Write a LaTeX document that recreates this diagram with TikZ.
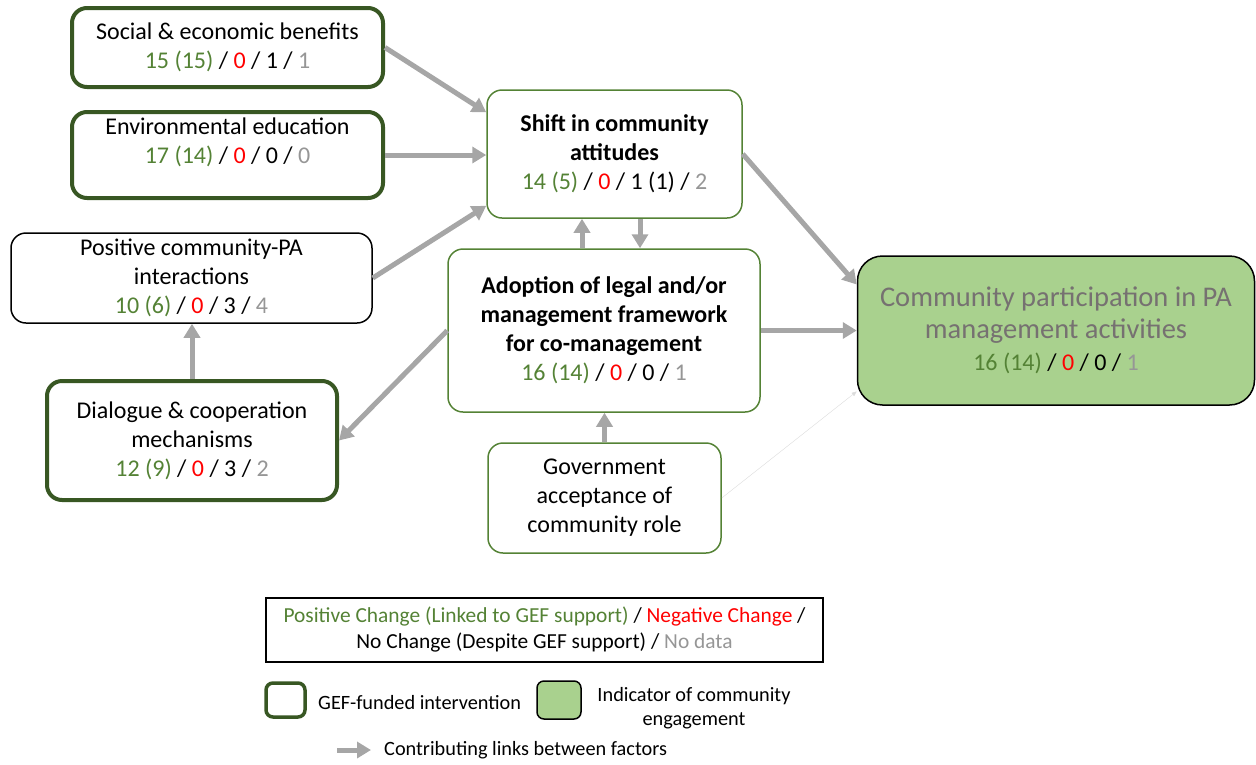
\documentclass[tikz,border=0pt]{standalone}
\usepackage{fontspec}
\setmainfont{Carlito}
\usetikzlibrary{arrows.meta,calc}
\definecolor{gefgreen}{RGB}{56,87,35}
\definecolor{boxgreen}{RGB}{84,130,53}
\definecolor{txtgreen}{RGB}{84,130,53}
\definecolor{nodata}{RGB}{150,150,150}
\definecolor{linkgray}{RGB}{166,166,166}
\definecolor{engfill}{RGB}{169,209,142}
\definecolor{engtext}{RGB}{118,113,113}
\newcommand{\counts}[4]{\textcolor{txtgreen}{#1} / \textcolor{red}{#2} / #3 / \textcolor{nodata}{#4}}
\tikzset{
  factor/.style={draw=boxgreen, line width=1.5pt, rounded corners=15pt, align=center, inner sep=0pt, font=\fontsize{24}{29}\selectfont},
  gef/.style={factor, draw=gefgreen, line width=4pt},
  link/.style={draw=linkgray, line width=5pt, -{Triangle[length=14pt,width=16pt]}},
}
\begin{document}
\begin{tikzpicture}[x=1pt,y=-1pt]
\useasboundingbox (0,0) rectangle (1256,764);
\node[gef, minimum width=311pt, minimum height=79pt] (1) at (227.5,47.5) {Social \& economic benefits\\\counts{15 (15)}{0}{1}{1}};
\node[gef, minimum width=311pt, minimum height=86pt] (2) at (227.5,155) {Environmental education\\\counts{17 (14)}{0}{0}{0}\\\mbox{}};
\node[factor, draw=black, minimum width=361pt, minimum height=90pt] (3) at (191.5,278) {Positive community-PA\\interactions\\\counts{10 (6)}{0}{3}{4}};
\node[gef, minimum width=290pt, minimum height=119pt] (4) at (192,440.5) {Dialogue \& cooperation\\mechanisms\\\counts{12 (9)}{0}{3}{2}};
\node[factor, minimum width=255pt, minimum height=128pt] (5) at (614.5,154) {\textbf{Shift in community}\\\textbf{attitudes}\\\counts{14 (5)}{0}{1 (1)}{2}};
\node[factor, minimum width=312pt, minimum height=163pt] (6) at (604,330.5) {\textbf{Adoption of legal and/or}\\\textbf{management framework}\\\textbf{for co-management}\\\counts{16 (14)}{0}{0}{1}};
\node[factor, minimum width=233pt, minimum height=110pt] (7) at (604.5,498) {Government\\acceptance of\\community role};
\node[factor, draw=black, fill=engfill, rounded corners=25pt, minimum width=397pt, minimum height=149pt, text=engtext, font=\fontsize{28.5}{32}\selectfont] (8) at (1056,330.5) {Community participation in PA\\management activities\\{\fontsize{24}{32}\selectfont\color{black}\counts{16 (14)}{0}{0}{1}}};
% links
\path[draw,link] (1.east) -- (5.162);
\path[draw,link] (2.east) -- (5.west |- 2.east);
\path[draw,link] (3.east) -- (5.202);
\path[draw,link] (4.north) -- (4.north |- 3.south);
\path[draw,link] (6.west) -- (4.east);
\coordinate (up) at ($(6.north)+(-22,0)$);
\coordinate (dn) at ($(5.south)+(25.5,0)$);
\path[draw,link] (up) -- (up |- 5.south);
\path[draw,link] (dn) -- (dn |- 6.north);
\path[draw,link] (7.north) -- (7.north |- 6.south);
\path[draw,link] (5.east) -- (8.167);
\path[draw,link] (6.east) -- (6.east -| 8.west);
\path[draw=linkgray!40, line width=0.4pt, -{Triangle[length=5pt,width=4pt]}] (7.east) -- (8.197);
% legend
\node[draw, line width=1.5pt, minimum width=557pt, minimum height=64pt, align=center, inner sep=0pt, font=\fontsize{21.4}{26}\selectfont] (9) at (544.5,630) {\textcolor{txtgreen}{Positive Change (Linked to GEF support)} / \textcolor{red}{Negative Change} /\\No Change (Despite GEF support) / \textcolor{nodata}{No data}};
\node[gef, rounded corners=7pt, line width=3.5pt, minimum width=39pt, minimum height=34pt] (10) at (285.5,700) {};
\node[anchor=west, inner sep=0pt, font=\fontsize{20.3}{24}\selectfont] (11) at (318,703) {GEF-funded intervention};
\node[draw=black, fill=engfill, line width=1.5pt, rounded corners=7pt, minimum width=44pt, minimum height=38pt] (12) at (559,700) {};
\node[align=center, inner sep=0pt, font=\fontsize{20.3}{24}\selectfont] (13) at (694,708) {Indicator of community\\engagement};
\coordinate (l1) at (337,750);
\coordinate (l2) at (371,750);
\path[draw,link] (l1) -- (l2);
\node[anchor=west, inner sep=0pt, font=\fontsize{20.3}{24}\selectfont] (14) at (384,750) {Contributing links between factors};
\end{tikzpicture}
\end{document}
